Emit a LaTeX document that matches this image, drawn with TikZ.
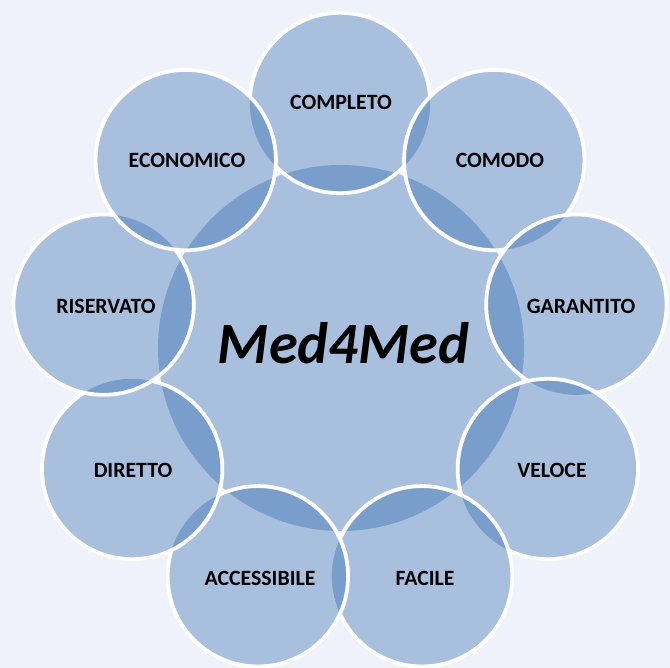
\documentclass[tikz,border=0pt]{standalone}
\usepackage{fontspec}
\setmainfont{Carlito}
\usetikzlibrary{calc}
\definecolor{bgcol}{HTML}{EFF2FA}
\definecolor{litecol}{HTML}{A8C0DE}
\definecolor{darkcol}{HTML}{7A9ECB}
\tikzset{
  ringlabel/.style={anchor=base, font=\fontsize{21.8}{26}\selectfont\bfseries, text=black, inner sep=0pt},
  hublabel/.style={anchor=base, font=\fontsize{58.5}{64}\selectfont\bfseries\itshape, text=black, inner sep=0pt},
  rim/.style={draw=white, line width=3.8pt}
}
\begin{document}
\begin{tikzpicture}[x=1pt,y=-1pt]
\useasboundingbox (0,0) rectangle (670,668);
\fill[bgcol] (0,0) rectangle (670,668);
\def\rr{90.2}
\def\rc{183}
\coordinate (O) at (341,348);
\foreach \i in {0,...,8}{
  \pgfmathsetmacro\ang{90-40*\i}
  \coordinate (c\i) at ($(340,347)+({240*cos(\ang)},{-244*sin(\ang)})$);
}
\fill[litecol] (O) circle (\rc);
\foreach \i in {0,...,8}{
  \pgfmathtruncatemacro\prv{mod(\i+8,9)}
  \pgfmathtruncatemacro\nxt{mod(\i+1,9)}
  \fill[litecol] (c\i) circle (\rr);
  \begin{scope}
    \clip (c\i) circle (\rr);
    \fill[darkcol] (O) circle (\rc);
    \fill[darkcol] (c\prv) circle (\rr);
    \fill[darkcol] (c\nxt) circle (\rr);
  \end{scope}
  \draw[rim] (c\i) circle (\rr);
}
\node[hublabel] (hub) at (343.5,364) {Med4Med};
\node[ringlabel] (l0) at (341,110) {COMPLETO};
\node[ringlabel] (l1) at (500,168) {COMODO};
\node[ringlabel] (l2) at (581,314) {GARANTITO};
\node[ringlabel] (l3) at (552,478) {VELOCE};
\node[ringlabel] (l4) at (425,585) {FACILE};
\node[ringlabel] (l5) at (260,585) {ACCESSIBILE};
\node[ringlabel] (l6) at (133,478) {DIRETTO};
\node[ringlabel] (l7) at (106,314) {RISERVATO};
\node[ringlabel] (l8) at (187,168) {ECONOMICO};
\end{tikzpicture}
\end{document}
